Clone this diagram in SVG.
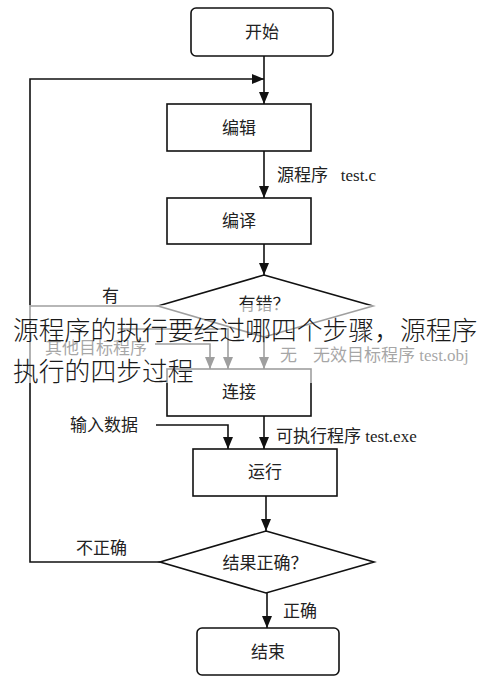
<svg xmlns="http://www.w3.org/2000/svg" width="490" height="679" viewBox="0 0 490 679">
<defs>
<marker id="ah" markerUnits="userSpaceOnUse" markerWidth="12" markerHeight="10" refX="12" refY="5" orient="auto">
<path d="M0,0 L12,5 L0,10 z" fill="#111"/>
</marker>
</defs>
<style>
.box{fill:#fff;stroke:#111;stroke-width:1.6}
.lbl{font-family:"Liberation Serif","Noto Sans CJK SC",serif;font-size:17px;fill:#222;dominant-baseline:central}
.mid{text-anchor:middle}
.conn{stroke:#111;stroke-width:1.6;fill:none}
.arr{marker-end:url(#ah)}
.cap{font-family:"Noto Sans CJK SC","Noto Sans CJK JP",sans-serif;font-size:25.8px;font-weight:300;fill:#1a1a1a;dominant-baseline:central}
</style>
<rect width="490" height="679" fill="#fff"/>
<g id="connectors">
<path class="conn arr" d="M264,56 V104"/>
<path class="conn arr" d="M160,562 H30 V79 H264"/>
<path class="conn arr" d="M264,151 V198"/>
<path class="conn arr" d="M264,244 V275"/>
<path class="conn" d="M158,306 H30"/>
<path class="conn arr" d="M155,344 H210 V369"/>
<path class="conn arr" d="M118,329 H228 V369"/>
<path class="conn arr" d="M264,337 V369"/>
<path class="conn arr" d="M264,416 V449"/>
<path class="conn arr" d="M156,425 H228 V449"/>
<path class="conn arr" d="M266,496 V531"/>
<path class="conn arr" d="M267,593 V628"/>
</g>
<g id="labels">
<text class="lbl" x="277" y="175">源程序&#160;&#160; test.c</text>
<text class="lbl" x="102" y="296">有</text>
<text class="lbl" x="45" y="348">其他目标程序</text>
<text class="lbl" x="280" y="355">无</text>
<text class="lbl" x="313" y="355">无效目标程序 test.obj</text>
<text class="lbl" x="276" y="436">可执行程序 test.exe</text>
<text class="lbl" x="70" y="425">输入数据</text>
<text class="lbl" x="76" y="548">不正确</text>
<text class="lbl" x="283" y="611">正确</text>
</g>
<g id="start"><rect class="box" x="191" y="8" width="142" height="48" rx="5"/><text class="lbl mid" x="262" y="32">开始</text></g>
<g id="edit"><rect class="box" x="167" y="104" width="144" height="47"/><text class="lbl mid" x="239" y="128">编辑</text></g>
<g id="compile"><rect class="box" x="167" y="198" width="144" height="46"/><text class="lbl mid" x="239" y="221">编译</text></g>
<g id="has-error"><polygon class="box" points="264,275 373,306 264,337 158,306"/><text class="lbl mid" x="264" y="304">有错？</text></g>
<g id="link"><rect class="box" x="167" y="369" width="144" height="47"/><text class="lbl mid" x="239" y="392">连接</text></g>
<g id="run"><rect class="box" x="193" y="449" width="144" height="47"/><text class="lbl mid" x="265" y="472">运行</text></g>
<g id="result-ok"><polygon class="box" points="266,531 374,562 266,593 160,562"/><text class="lbl mid" x="265" y="563">结果正确？</text></g>
<g id="end"><rect class="box" x="197" y="628" width="142" height="47" rx="5"/><text class="lbl mid" x="268" y="652">结束</text></g>
<rect id="fade-band" x="0" y="305" width="490" height="78" fill="#fff" fill-opacity="0.6"/>
<g id="caption">
<text class="cap" x="13" y="328">源程序的执行要经过哪四个步骤，源程序</text>
<text class="cap" x="13" y="369">执行的四步过程</text>
</g>
</svg>
